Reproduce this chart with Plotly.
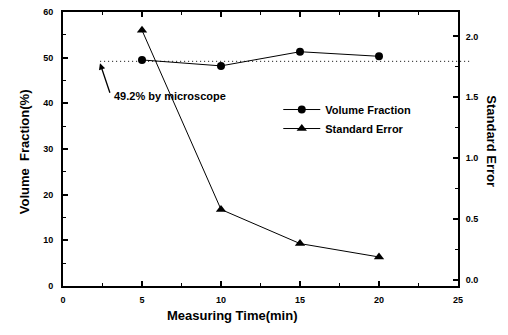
import plotly.graph_objects as go

time_min = [5, 10, 15, 20]
volume_fraction = [49.5, 48.2, 51.3, 50.3]
standard_error = [2.05, 0.58, 0.30, 0.19]
microscope_value = 49.2

x_ticks = [0, 5, 10, 15, 20, 25]
y_ticks = [0, 10, 20, 30, 40, 50, 60]
y2_ticks = [0.0, 0.5, 1.0, 1.5, 2.0]
y2_labels = ["0.0", "0.5", "1.0", "1.5", "2.0"]

FONT = "Liberation Sans"
tickfont = dict(family=FONT, size=9, color="black", weight="bold")

fig = go.Figure()
fig.add_trace(go.Scatter(
    x=time_min, y=volume_fraction, name="Volume Fraction",
    mode="lines+markers", line=dict(color="black", width=1),
    marker=dict(symbol="circle", size=8, color="black"), yaxis="y"))
fig.add_trace(go.Scatter(
    x=time_min, y=standard_error, name="Standard Error",
    mode="lines+markers", line=dict(color="black", width=1),
    marker=dict(symbol="triangle-up", size=9, color="black"), yaxis="y2"))

axis_common = dict(showline=True, linecolor="black", linewidth=2, ticks="inside",
                   ticklen=5, tickwidth=1.5, tickcolor="black", showgrid=False,
                   zeroline=False, tickfont=tickfont)

fig.update_layout(
    width=508, height=335,
    margin=dict(l=63, r=50, t=7, b=49),
    paper_bgcolor="white", plot_bgcolor="white",
    showlegend=True,
    legend=dict(x=0.545, y=0.697, xanchor="left", yanchor="top",
                font=dict(family=FONT, size=11, color="black", weight="bold"),
                bgcolor="rgba(0,0,0,0)", tracegroupgap=0, itemwidth=37),
    xaxis=dict(range=[0, 25], tickvals=x_ticks, ticktext=[str(v) for v in x_ticks],
               mirror="ticks",
               minor=dict(dtick=2.5, ticks="inside", ticklen=3, tickcolor="black", tickwidth=1),
               ticklabelstandoff=4, **axis_common),
    yaxis=dict(range=[0, 60], tickvals=y_ticks, ticktext=[str(v) for v in y_ticks],
               minor=dict(dtick=5, ticks="inside", ticklen=3, tickcolor="black", tickwidth=1),
               ticklabelstandoff=6, **axis_common),
    yaxis2=dict(range=[-0.048, 2.2], overlaying="y", side="right",
                tickvals=y2_ticks, ticktext=y2_labels,
                minor=dict(dtick=0.25, ticks="inside", ticklen=3, tickcolor="black", tickwidth=1),
                ticklabelstandoff=4, **axis_common),
)

# dotted reference line for microscope value
fig.add_shape(type="line", xref="paper", yref="y", x0=0.094, x1=1.035,
              y0=microscope_value, y1=microscope_value,
              line=dict(color="black", width=1, dash="1px,3px"))

# arrow
fig.add_annotation(x=2.34, y=48.8, ax=3.0, ay=42.0, xref="x", yref="y",
                   axref="x", ayref="y", text="", showarrow=True,
                   arrowhead=2, arrowsize=1, arrowwidth=1.3, arrowcolor="black")
fig.add_annotation(x=3.1, y=41.5, xref="x", yref="y", text=f"{microscope_value}% by microscope",
                   showarrow=False, xanchor="left", yanchor="middle",
                   font=dict(family=FONT, size=11, color="black", weight="bold"))

# axis titles
title_font = dict(family=FONT, size=13, color="black", weight="bold")
fig.add_annotation(x=0, y=0.49, xref="paper", yref="paper", xshift=-48,
                   text="Volume  Fraction(%)", textangle=-90, showarrow=False,
                   font=title_font)
fig.add_annotation(x=0.43, y=0, xref="paper", yref="paper", yshift=-39,
                   text="Measuring Time(min)", showarrow=False, font=title_font)
fig.add_annotation(x=1, y=0.53, xref="paper", yref="paper", xshift=43,
                   text="Standard Error", textangle=90, showarrow=False,
                   font=title_font)

fig.write_html("out.html")
